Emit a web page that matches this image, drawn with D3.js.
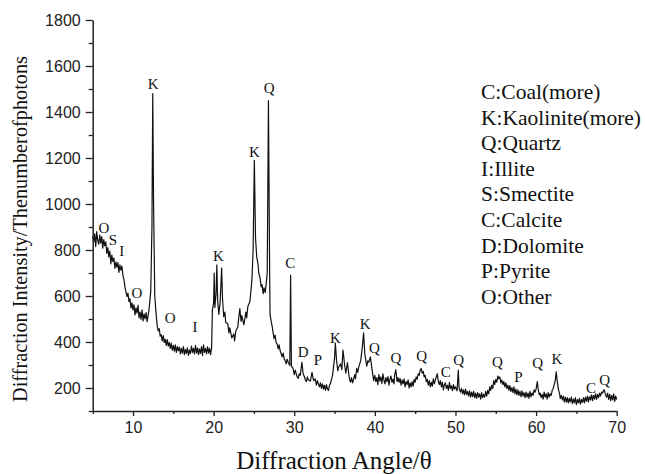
<!DOCTYPE html>
<html><head><meta charset="utf-8">
<script src="https://cdn.jsdelivr.net/npm/d3@7/dist/d3.min.js"></script>
<style>body{margin:0;background:#fff}svg{display:block}</style>
</head><body>
<svg id="chart" width="645" height="474"></svg>
<script>
// XRD spectrum: [angle θ, intensity]
const spectrum = [
[5.0,860],[5.125,835],[5.25,870],[5.375,815],[5.5,880],[5.625,840],[5.75,825],[5.875,865],[6.0,830],[6.125,858],[6.25,808],
[6.375,845],[6.5,818],[6.625,835],[6.75,785],[6.875,810],[7.0,770],[7.125,795],[7.25,740],[7.375,778],[7.5,750],[7.625,765],
[7.75,720],[7.875,748],[8.0,725],[8.125,745],[8.25,702],[8.375,735],[8.5,712],[8.625,730],[8.75,690],[8.875,672],[9.0,640],
[9.125,618],[9.25,598],[9.375,612],[9.5,575],[9.625,588],[9.75,548],[9.875,570],[10.0,540],[10.125,562],[10.25,518],[10.375,548],
[10.5,525],[10.625,560],[10.75,505],[10.875,530],[11.0,498],[11.125,540],[11.25,492],[11.375,522],[11.5,500],[11.625,528],
[11.75,488],[11.875,515],[12.0,545],[12.2,620],[12.35,900],[12.45,1480],[12.55,1000],[12.7,600],[12.85,530],
[13.0,470],[13.125,448],[13.25,458],[13.375,425],[13.5,432],[13.625,405],[13.75,428],[13.875,398],[14.0,412],[14.125,385],
[14.25,410],[14.375,382],[14.5,398],[14.625,372],[14.75,395],[14.875,365],[15.0,385],[15.125,360],[15.25,388],[15.375,355],
[15.5,380],[15.625,362],[15.75,378],[15.875,348],[16.0,372],[16.125,352],[16.25,380],[16.375,345],[16.5,368],[16.625,350],
[16.75,375],[16.875,342],[17.0,365],[17.125,350],[17.25,382],[17.375,355],[17.5,372],[17.625,348],[17.75,385],[17.875,352],
[18.0,375],[18.125,345],[18.25,370],[18.375,350],[18.5,380],[18.625,342],[18.75,388],[18.875,355],[19.0,372],[19.125,348],
[19.25,380],[19.375,352],[19.5,372],[19.625,345],[19.75,375],
[19.85,540],[20.0,570],[20.07,700],[20.15,550],[20.3,610],
[20.4,735],[20.5,580],[20.65,520],[20.8,570],[21.0,722],[21.1,590],[21.25,510],[21.4,530],[21.5,485],[21.75,480],[21.9,440],
[22.0,462],[22.25,418],[22.5,435],[22.6,405],[22.75,448],[23.0,465],[23.1,500],[23.25,545],[23.4,490],[23.5,515],[23.75,475],
[24.0,530],[24.1,505],[24.25,555],[24.5,575],[24.75,670],[24.9,800],[25.05,1190],[25.2,850],[25.35,770],[25.5,740],[25.6,700],
[25.75,680],[25.9,640],[26.0,650],[26.15,610],[26.25,635],[26.4,615],[26.5,645],[26.65,700],[26.8,1450],[26.95,700],
[27.0,520],[27.125,492],[27.25,470],[27.375,442],[27.5,415],[27.625,430],[27.75,398],[27.875,392],[28.0,370],[28.125,388],
[28.25,362],[28.375,350],[28.5,335],[28.625,352],[28.75,328],[28.875,318],[29.0,305],[29.125,325],[29.25,312],[29.45,298],
[29.55,690],[29.65,295],[29.85,285],[30.0,258],[30.125,278],[30.25,262],[30.375,248],[30.5,242],[30.625,262],[30.75,255],
[30.95,312],[31.1,262],[31.25,250],[31.375,235],[31.5,228],[31.625,248],[31.75,235],[32.0,230],[32.2,268],[32.4,232],[32.6,240],
[32.75,212],[32.875,232],[33.0,218],[33.125,205],[33.25,222],[33.375,198],[33.5,218],[33.625,195],[33.75,212],[33.875,190],
[34.0,215],[34.125,195],[34.25,190],[34.375,212],[34.5,220],[34.75,255],[35.0,330],[35.1,395],[35.25,320],[35.4,275],[35.5,290],
[35.75,305],[35.9,280],[36.05,365],[36.25,300],[36.4,265],[36.6,310],[36.8,250],[36.9,232],[37.0,225],[37.1,245],[37.25,222],
[37.375,240],[37.5,258],[37.6,240],[37.75,285],[37.875,268],[38.0,292],[38.125,305],[38.25,320],[38.45,380],[38.6,440],[38.75,350],
[38.9,315],[39.0,295],[39.125,318],[39.25,312],[39.45,335],[39.65,280],[39.85,232],
[40.0,255],[40.125,228],[40.25,245],[40.375,215],[40.5,258],[40.625,230],[40.75,248],[40.875,220],[41.0,262],[41.125,235],
[41.25,218],[41.375,245],[41.5,228],[41.625,250],[41.75,212],[41.875,238],[42.0,252],[42.125,225],[42.25,238],[42.375,218],
[42.45,255],[42.6,280],[42.75,228],[42.875,245],[43.0,225],[43.125,242],[43.25,212],[43.375,235],[43.5,218],[43.625,240],
[43.75,205],[43.875,228],[44.0,215],[44.125,235],[44.25,200],[44.375,222],[44.5,205],[44.625,228],[44.75,208],[44.875,238],
[45.0,225],[45.125,248],[45.25,238],[45.375,262],[45.5,255],[45.625,278],[45.75,285],[45.875,265],[46.0,272],[46.125,248],
[46.25,255],[46.375,228],[46.5,238],[46.625,212],[46.75,232],[46.875,205],[47.0,225],[47.125,208],[47.25,240],[47.375,218],
[47.5,235],[47.625,248],[47.75,262],[47.875,228],[48.0,215],[48.125,232],[48.25,205],[48.375,225],[48.5,192],[48.625,215],
[48.75,222],[48.875,198],[49.0,212],[49.125,190],[49.25,225],[49.375,198],[49.5,210],[49.625,188],[49.75,215],[49.875,195],
[50.0,205],[50.2,188],[50.35,278],[50.45,200],[50.625,182],[50.75,198],[50.875,175],[51.0,192],[51.125,170],[51.25,195],
[51.375,172],[51.5,185],[51.625,165],[51.75,188],[51.875,160],[52.0,182],[52.125,162],[52.25,185],[52.375,158],[52.5,178],
[52.625,155],[52.75,180],[52.875,160],[53.0,175],[53.125,152],[53.25,180],[53.375,158],[53.5,172],[53.625,160],[53.75,185],
[53.875,165],[54.0,190],[54.125,175],[54.25,205],[54.375,190],[54.5,212],[54.625,198],[54.75,232],[54.875,215],[55.0,238],
[55.125,225],[55.25,252],[55.375,240],[55.5,248],[55.625,222],[55.75,235],[55.875,215],[56.0,228],[56.125,205],[56.25,222],
[56.375,198],[56.5,212],[56.625,190],[56.75,210],[56.875,185],[57.0,202],[57.125,180],[57.25,205],[57.375,175],[57.5,195],
[57.625,170],[57.75,192],[57.875,168],[58.0,185],[58.125,162],[58.25,188],[58.375,165],[58.5,180],[58.625,158],[58.75,182],
[58.875,160],[59.0,178],[59.125,155],[59.25,185],[59.375,162],[59.5,178],[59.625,168],[59.75,192],[59.875,182],[60.0,195],
[60.15,228],[60.3,185],[60.4,170],[60.5,178],[60.625,158],[60.75,172],[60.875,152],[61.0,182],[61.125,160],[61.25,175],
[61.375,152],[61.5,180],[61.625,160],[61.75,175],[61.875,168],[62.0,190],[62.125,198],[62.25,215],[62.375,232],[62.5,270],
[62.6,235],[62.7,210],[62.8,190],[62.9,178],[63.0,155],[63.125,168],[63.25,148],[63.375,165],[63.5,140],[63.625,160],
[63.75,138],[63.875,158],[64.0,135],[64.125,155],[64.25,140],[64.375,160],[64.5,132],[64.625,152],[64.75,135],[64.875,158],
[65.0,128],[65.125,150],[65.25,135],[65.375,155],[65.5,130],[65.625,150],[65.75,138],[65.875,158],[66.0,135],[66.125,160],
[66.25,142],[66.375,165],[66.5,140],[66.625,162],[66.75,148],[66.875,170],[67.0,145],[67.125,168],[67.25,152],[67.375,175],
[67.5,150],[67.625,172],[67.75,158],[67.875,178],[68.0,165],[68.125,182],[68.25,178],[68.375,190],[68.45,192],[68.6,172],
[68.75,160],[68.875,178],[69.0,150],[69.125,172],[69.25,145],[69.375,168],[69.5,148],[69.625,175],[69.75,142],[69.875,165],
[70.0,150]
];

// Peak labels: [letter, angle, intensity at label centre]
const peakLabels = [
["O",6.4,896],["S",7.5,843],["I",8.6,796],["O",10.5,613],["K",12.5,1522],["O",14.6,504],["I",17.7,465],
["K",20.6,774],["K",25.05,1226],["Q",26.9,1504],["C",29.5,743],["D",31.1,357],["P",32.95,322],["K",35.1,417],
["K",38.8,478],["Q",39.95,374],["Q",42.6,330],["Q",45.8,339],["C",48.8,270],["Q",50.4,322],["Q",55.2,313],
["P",57.8,248],["Q",60.2,309],["K",62.6,326],["C",66.8,200],["Q",68.5,235]
];

const legendItems = ["C:Coal(more)","K:Kaolinite(more)","Q:Quartz","I:Illite","S:Smectite","C:Calcite","D:Dolomite","P:Pyrite","O:Other"];

const xTicks = [10,20,30,40,50,60,70];
const xMinorTicks = [5,15,25,35,45,55,65];
const yTicks = [200,400,600,800,1000,1200,1400,1600,1800];
const yMinorTicks = [100,300,500,700,900,1100,1300,1500,1700];

const xTitle = "Diffraction Angle/θ";
const yTitle = "Diffraction Intensity/Thenumberofphotons";

const svg = d3.select("#chart");
const x = d3.scaleLinear().domain([5,70]).range([92.7,616.7]);
const y = d3.scaleLinear().domain([100,1800]).range([411,20]);

const line = d3.line().x(d=>x(d[0])).y(d=>y(d[1]));
svg.append("path").datum(spectrum).attr("d",line)
  .attr("fill","none").attr("stroke","#111").attr("stroke-width",1.2).attr("stroke-linejoin","round");

const axColor = "#222";
const fmt = d3.format("d");
// x axis
svg.append("g").attr("transform",`translate(0,${y(100)})`)
  .call(d3.axisBottom(x).tickValues(xTicks).tickFormat(fmt).tickSize(5).tickSizeOuter(0).tickPadding(6));
const gxm = svg.append("g").attr("transform",`translate(0,${y(100)})`)
  .call(d3.axisBottom(x).tickValues(xMinorTicks).tickSize(3).tickSizeOuter(0).tickFormat(""));
gxm.select(".domain").remove();
// y axis
svg.append("g").attr("transform",`translate(${x(5)},0)`)
  .call(d3.axisLeft(y).tickValues(yTicks).tickFormat(fmt).tickSize(7).tickSizeOuter(0).tickPadding(5));
const gym = svg.append("g").attr("transform",`translate(${x(5)},0)`)
  .call(d3.axisLeft(y).tickValues(yMinorTicks).tickSize(4).tickSizeOuter(0).tickFormat(""));
gym.select(".domain").remove();
svg.selectAll(".domain").attr("stroke",axColor).attr("stroke-width",1.5);
svg.selectAll(".tick line").attr("stroke",axColor).attr("stroke-width",1.3);
svg.selectAll(".tick text").attr("font-family","'Liberation Sans',Arial,sans-serif").attr("font-size",16).attr("fill","#222");

// peak labels
svg.append("g").selectAll("text").data(peakLabels).join("text")
  .attr("x",d=>x(d[1])).attr("y",d=>y(d[2]))
  .attr("text-anchor","middle").attr("dominant-baseline","central")
  .attr("font-family","'Liberation Serif','Times New Roman',serif").attr("font-size",15).attr("fill","#111")
  .text(d=>d[0]);

// legend
svg.append("g").selectAll("text").data(legendItems).join("text")
  .attr("x",481).attr("y",(d,i)=>99+i*25.6)
  .attr("font-family","'Liberation Serif','Times New Roman',serif").attr("font-size",21.5).attr("fill","#111")
  .text(d=>d);

// axis titles
svg.append("text").attr("x",334).attr("y",469).attr("text-anchor","middle")
  .attr("font-family","'Liberation Serif','Times New Roman',serif").attr("font-size",25).attr("fill","#111")
  .text(xTitle);
svg.append("text").attr("transform","translate(27,229) rotate(-90)").attr("text-anchor","middle")
  .attr("font-family","'Liberation Serif','Times New Roman',serif").attr("font-size",20.3).attr("fill","#111")
  .text(yTitle);
</script>
</body></html>
